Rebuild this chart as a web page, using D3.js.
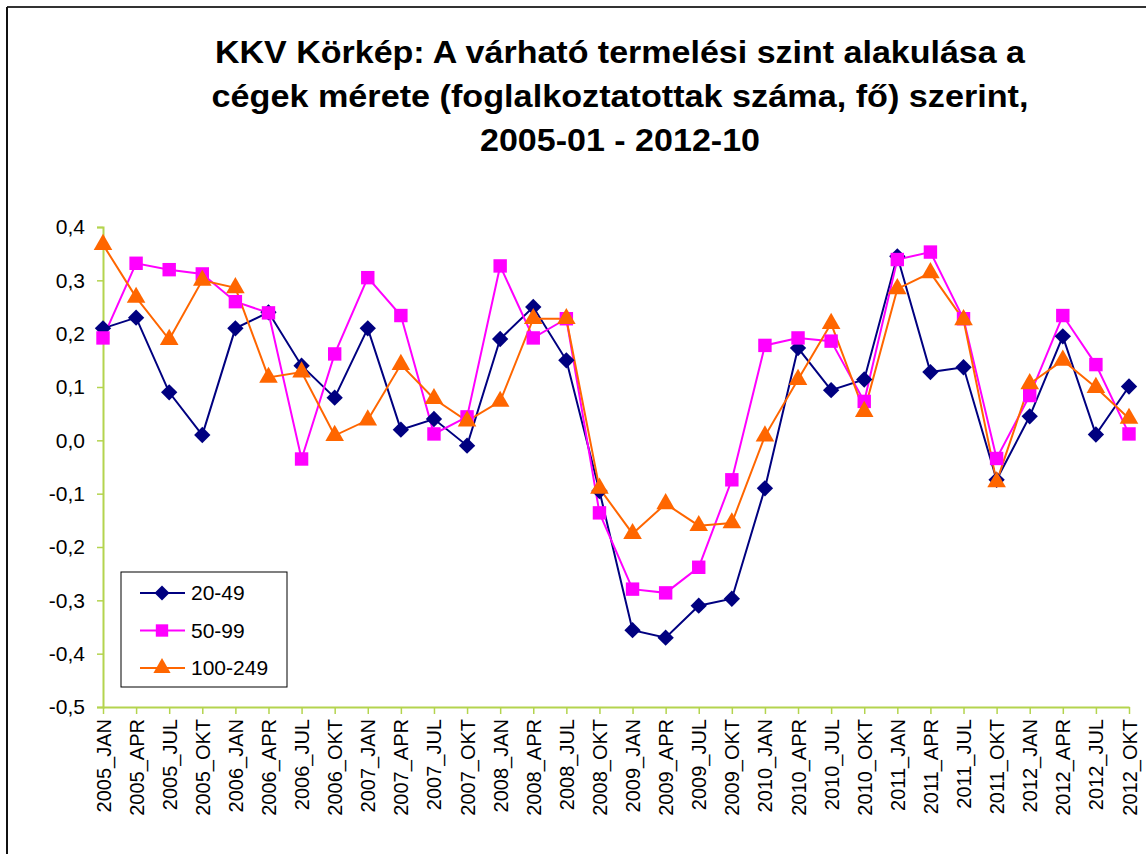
<!DOCTYPE html>
<html><head><meta charset="utf-8">
<script src="https://cdn.jsdelivr.net/npm/d3@7"></script>
<style>body{margin:0;background:#fff;} svg{display:block;font-family:"Liberation Sans",Arial,sans-serif;}</style>
</head><body>
<script>
const categories = ["2005_JAN","2005_APR","2005_JUL","2005_OKT","2006_JAN","2006_APR","2006_JUL","2006_OKT",
"2007_JAN","2007_APR","2007_JUL","2007_OKT","2008_JAN","2008_APR","2008_JUL","2008_OKT",
"2009_JAN","2009_APR","2009_JUL","2009_OKT","2010_JAN","2010_APR","2010_JUL","2010_OKT",
"2011_JAN","2011_APR","2011_JUL","2011_OKT","2012_JAN","2012_APR","2012_JUL","2012_OKT"];
const s20_49 = [0.21,0.23,0.09,0.01,0.21,0.24,0.14,0.08,0.21,0.02,0.04,-0.01,0.19,0.25,0.15,-0.095,
-0.356,-0.37,-0.31,-0.297,-0.09,0.173,0.094,0.114,0.345,0.128,0.137,-0.074,0.045,0.195,0.011,0.101];
const s50_99 = [0.192,0.332,0.32,0.312,0.26,0.239,-0.035,0.162,0.305,0.234,0.012,0.044,0.327,0.192,0.228,-0.136,
-0.279,-0.286,-0.238,-0.074,0.178,0.192,0.186,0.073,0.339,0.353,0.228,-0.034,0.084,0.234,0.142,0.012];
const s100_249 = [0.367,0.268,0.189,0.30,0.286,0.118,0.128,0.009,0.038,0.142,0.078,0.036,0.073,0.228,0.228,-0.09,
-0.175,-0.119,-0.16,-0.155,0.008,0.114,0.219,0.054,0.284,0.314,0.226,-0.078,0.106,0.15,0.099,0.041];
const seriesNames = ["20-49","50-99","100-249"];
const yTicks = [0.4,0.3,0.2,0.1,0.0,-0.1,-0.2,-0.3,-0.4,-0.5];
const titleLines = ["KKV Körkép: A várható termelési szint alakulása a","cégek mérete (foglalkoztatottak száma, fő) szerint,","2005-01 - 2012-10"];

const W=1146,H=854;
const svg=d3.select("body").append("svg").attr("width",W).attr("height",H);
svg.append("rect").attr("width",W).attr("height",H).attr("fill","#fff");
svg.append("line").attr("x1",7).attr("x2",W).attr("y1",7).attr("y2",7).attr("stroke","#333").attr("stroke-width",2);
svg.append("line").attr("x1",7).attr("x2",7).attr("y1",7).attr("y2",H).attr("stroke","#111").attr("stroke-width",2);

// title
const titleWidths=[810,817,280];
svg.append("g").selectAll("text").data(titleLines).join("text")
 .attr("x",620).attr("y",(d,i)=>63+i*44).attr("text-anchor","middle")
 .attr("font-size",31).attr("font-weight","bold").attr("fill","#000")
 .attr("textLength",(d,i)=>titleWidths[i]).attr("lengthAdjust","spacingAndGlyphs").text(d=>d);

const x=d3.scalePoint().domain(categories).range([103,1129]);
const y=d3.scaleLinear().domain([-0.5,0.4]).range([707,227]);
const axisColor="#b4d44e";
const fmt=d=>d3.format(".1f")(d).replace(".",",").replace("−","-");

const yAx=svg.append("g").attr("transform","translate(103,0)")
 .call(d3.axisLeft(y).tickValues(yTicks).tickSize(6).tickPadding(12).tickFormat(fmt));
yAx.select(".domain").attr("stroke",axisColor).attr("stroke-width",2);
yAx.selectAll(".tick line").attr("stroke",axisColor).attr("stroke-width",1.5);
yAx.selectAll("text").attr("font-size",21).attr("fill","#000").attr("font-family","Liberation Sans, Arial, sans-serif");

const xAx=svg.append("g").attr("transform","translate(0,707)")
 .call(d3.axisBottom(x).tickSize(7).tickSizeOuter(0));
xAx.select(".domain").attr("stroke",axisColor).attr("stroke-width",2);
xAx.selectAll(".tick line").attr("stroke",axisColor).attr("stroke-width",1.5);
xAx.selectAll("text").attr("font-size",20).attr("fill","#000").attr("font-family","Liberation Sans, Arial, sans-serif")
 .attr("transform","rotate(-90)").attr("text-anchor","end").attr("x",-12).attr("y",0).attr("dy","0.35em");

const series=[
 {name:seriesNames[0],vals:s20_49,color:"#000080",sym:d3.symbolDiamond2,size:170,lw:2},
 {name:seriesNames[1],vals:s50_99,color:"#ff00ff",sym:d3.symbolSquare,size:180,lw:2},
 {name:seriesNames[2],vals:s100_249,color:"#ff6600",sym:d3.symbolTriangle,size:150,lw:2}
];
const line=d3.line().x((d,i)=>x(categories[i])).y(d=>y(d));
series.forEach(s=>{
 svg.append("path").datum(s.vals).attr("d",line).attr("fill","none").attr("stroke",s.color).attr("stroke-width",s.lw);
});
series.forEach(s=>{
 svg.append("g").selectAll("path").data(s.vals).join("path")
  .attr("d",d3.symbol(s.sym,s.size))
  .attr("transform",(d,i)=>`translate(${x(categories[i])},${y(d)})`)
  .attr("fill",s.color);
});

// legend
const lg=svg.append("g");
lg.append("rect").attr("x",121).attr("y",572).attr("width",166).attr("height",115)
 .attr("fill","#fff").attr("stroke","#000").attr("stroke-width",1);
series.forEach((s,i)=>{
 const yy=593+i*37.5;
 lg.append("line").attr("x1",140).attr("x2",185).attr("y1",yy).attr("y2",yy).attr("stroke",s.color).attr("stroke-width",2);
 lg.append("path").attr("d",d3.symbol(s.sym,s.size*0.85)).attr("transform",`translate(162,${yy})`).attr("fill",s.color);
 lg.append("text").attr("x",191).attr("y",yy).attr("dy","0.35em").attr("font-size",21).attr("fill","#000").text(s.name);
});
</script>
</body></html>
